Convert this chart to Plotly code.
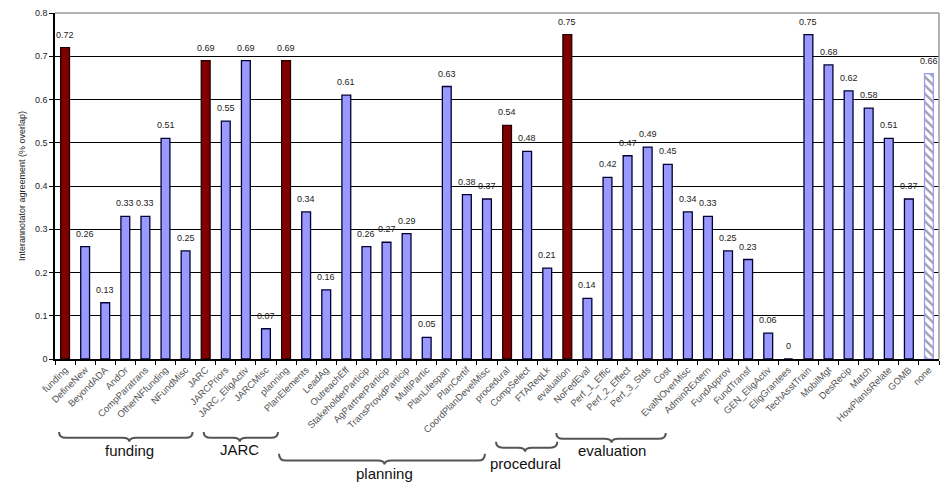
import plotly.graph_objects as go

categories = ["funding", "DefineNew", "BeyondADA", "AndOr", "CompParatrans", "OtherNFfunding",
              "NFundMisc", "JARC", "JARCPriors", "JARC_EligActiv", "JARCMisc", "planning",
              "PlanElements", "LeadAg", "OutreachEff", "StakeholderParticip", "AgPartnerParticip",
              "TransProvidParticip", "MultiPartic", "PlanLifespan", "PlanCertif",
              "CoordPlanDevelMisc", "procedural", "CompSelect", "FTAReqLk", "evaluation",
              "NoFedEval", "Perf_1_Effic", "Perf_2_Effect", "Perf_3_Stds", "Cost",
              "EvalNOverMisc", "AdminRExtern", "FundApprov", "FundTransf", "GEN_EligActiv",
              "EligGrantees", "TechAsstTrain", "MobilMgt", "DesRecip", "Match",
              "HowPlanIsRelate", "GOMB", "none"]
values = [0.72, 0.26, 0.13, 0.33, 0.33, 0.51, 0.25, 0.69, 0.55, 0.69, 0.07, 0.69,
          0.34, 0.16, 0.61, 0.26, 0.27, 0.29, 0.05, 0.63, 0.38, 0.37, 0.54, 0.48,
          0.21, 0.75, 0.14, 0.42, 0.47, 0.49, 0.45, 0.34, 0.33, 0.25, 0.23, 0.06,
          0.0, 0.75, 0.68, 0.62, 0.58, 0.51, 0.37, 0.66]
top_level = ["funding", "JARC", "planning", "procedural", "evaluation"]
hatched = ["none"]
group_labels = ["funding", "JARC", "planning", "procedural", "evaluation"]

BLUE = "#9999FF"
RED = "#800000"

xs = list(range(len(categories)))
colors, lcolors, shapes_p = [], [], []
for c in categories:
    if c in top_level:
        colors.append(RED); lcolors.append("#200000"); shapes_p.append("")
    elif c in hatched:
        colors.append("white"); lcolors.append(BLUE); shapes_p.append("\\")
    else:
        colors.append(BLUE); lcolors.append("#000033"); shapes_p.append("")

texts = [("0" if v == 0 else f"{v:.2f}") for v in values]

fig = go.Figure(go.Bar(
    x=xs, y=values, cliponaxis=False,
    marker=dict(color=colors, line=dict(color=lcolors, width=1.3),
                pattern=dict(shape=shapes_p, fgcolor=BLUE, bgcolor="white",
                             size=6, solidity=0.4)),
    width=0.44, showlegend=False,
))

annotations = []
for xi, v, t in zip(xs, values, texts):
    annotations.append(dict(x=xi, y=v, xref="x", yref="y", text=t, showarrow=False,
                            yanchor="bottom", yshift=6,
                            font=dict(size=9, color="#222", family="Liberation Sans")))

# brace geometry (pixel y below the plot top; x in category index units)
PLOT_TOP, PLOT_BOTTOM = 8, 359
def py(y):
    return (PLOT_BOTTOM - y) / (PLOT_BOTTOM - PLOT_TOP)

brace_geom = {
    "funding":    ((-0.3, 6.35, 3.2),  (433, 439, 443, 452)),
    "JARC":       ((6.9, 10.6, 8.7),   (433, 439, 443, 451)),
    "planning":   ((10.65, 20.9, 15.9), (455, 462, 466, 475)),
    "procedural": ((21.45, 24.5, 22.9), (443, 449, 453, 465)),
    "evaluation": ((24.45, 29.9, 27.2), (434, 440, 444, 452)),
}
shapes = []
for name in group_labels:
    (x0, x1, xm), (yt, yl, ytip, ylab) = brace_geom[name]
    q = 0.35
    a, b, c = py(yt), py(yl), py(ytip)
    path = (f"M {x0},{a} Q {x0},{b} {x0+q},{b} L {xm-q},{b} "
            f"Q {xm},{b} {xm},{c} Q {xm},{b} {xm+q},{b} "
            f"L {x1-q},{b} Q {x1},{b} {x1},{a}")
    shapes.append(dict(type="path", path=path, xref="x", yref="paper",
                       line=dict(color="#555", width=2)))
    annotations.append(dict(x=xm, y=py(ylab), xref="x", yref="paper", text=name,
                            showarrow=False, yanchor="middle",
                            font=dict(size=15, color="#111", family="Liberation Sans")))

shapes.append(dict(type="line", xref="paper", yref="paper", x0=0, x1=1, y0=1, y1=1,
                   line=dict(color="#999", width=1.5)))
shapes.append(dict(type="line", xref="paper", yref="paper", x0=1, x1=1, y0=0, y1=1,
                   line=dict(color="#999", width=1.5)))

fig.update_layout(
    width=947, height=484,
    margin=dict(l=55, r=8, t=8, b=125),
    plot_bgcolor="white", paper_bgcolor="white",
    font=dict(family="Liberation Sans", size=9, color="#333"),
    shapes=shapes, annotations=annotations,
)
fig.update_xaxes(range=[-0.5, len(categories) - 0.5], tickmode="array", tickvals=xs,
                 ticktext=categories, tickangle=-45, ticks="",
                 tickfont=dict(size=9.5, color="#555"),
                 showline=True, linecolor="black", linewidth=1.5, showgrid=False,
                 minor=dict(tickmode="array",
                            tickvals=[i - 0.5 for i in range(len(categories) + 1)],
                            ticks="outside", ticklen=4, tickcolor="black", showgrid=False))
fig.update_yaxes(range=[0, 0.8], dtick=0.1, showgrid=True,
                 gridcolor="black", gridwidth=1.2, zeroline=False,
                 showline=True, linecolor="black", linewidth=1.5,
                 ticks="outside", ticklen=4, tickcolor="black",
                 tickfont=dict(size=9, color="#222"),
                 title=dict(text="Interannotator agreement (% overlap)",
                            font=dict(size=9, color="#222"), standoff=8))

fig.write_html("out.html")
